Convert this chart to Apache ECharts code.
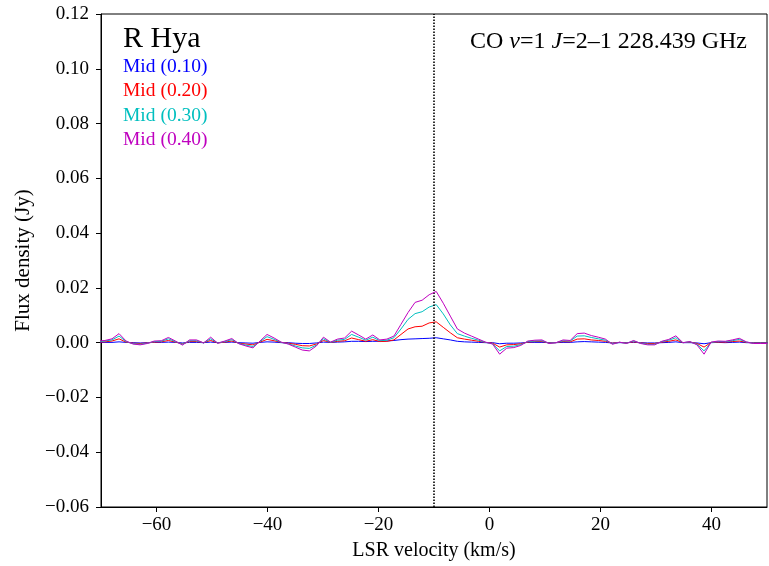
<!DOCTYPE html>
<html>
<head>
<meta charset="utf-8">
<script src="https://cdn.jsdelivr.net/npm/echarts@6/dist/echarts.min.js"></script>
<style>
html,body{margin:0;padding:0;background:#fff;}
#chart{width:769px;height:566px;}
</style>
</head>
<body>
<div id="chart"></div>
<script>
// LSR velocity channels (km/s)
const velocity = [
-70.56,-69.29,-68.02,-66.75,-65.48,-64.21,-62.94,-61.67,-60.40,-59.13,
-57.86,-56.59,-55.32,-54.05,-52.78,-51.51,-50.24,-48.97,-47.70,-46.43,
-45.16,-43.89,-42.62,-41.35,-40.08,-38.81,-37.54,-36.27,-35.00,-33.73,
-32.46,-31.19,-29.92,-28.65,-27.38,-26.11,-24.84,-23.57,-22.30,-21.03,
-19.76,-18.49,-17.22,-15.95,-14.68,-13.41,-12.14,-10.87,-9.60,-8.33,
-7.06,-5.79,-4.52,-3.25,-1.98,-0.71,0.56,1.83,3.10,4.37,
5.64,6.91,8.18,9.45,10.72,11.99,13.26,14.53,15.80,17.07,
18.34,19.61,20.88,22.15,23.42,24.69,25.96,27.23,28.50,29.77,
31.04,32.31,33.58,34.85,36.12,37.39,38.66,39.93,41.20,42.47,
43.74,45.01,46.28,47.55,48.82,50.09];

const mid010 = [
0.0001,0.0001,0.0001,0.0003,0.0001,0.0,-0.0001,0.0,0.0001,0.0001,
0.0002,0.0001,-0.0001,0.0001,0.0001,0.0,0.0002,0.0,0.0001,0.0002,
0.0,-0.0001,-0.0002,0.0001,0.0003,0.0002,0.0,0.0,-0.0002,-0.0003,
-0.0003,-0.0001,0.0002,0.0001,0.0002,0.0003,0.0005,0.0005,0.0004,0.0005,
0.0005,0.0006,0.0008,0.0011,0.0013,0.0014,0.0015,0.0016,0.0018,0.0014,
0.0010,0.0005,0.0003,0.0002,0.0001,0.0,0.0,-0.0004,-0.0002,-0.0002,
-0.0001,0.0001,0.0001,0.0001,0.0,0.0,0.0001,0.0001,0.0003,0.0004,
0.0003,0.0002,0.0001,-0.0001,0.0,0.0,0.0001,0.0,-0.0001,-0.0001,
0.0,0.0001,0.0003,0.0,0.0,-0.0001,-0.0004,0.0,0.0001,0.0,
0.0001,0.0002,0.0,0.0,0.0,0.0];

const mid020 = [
0.0002,0.0003,0.0006,0.0014,0.0002,-0.0002,-0.0003,-0.0001,0.0002,0.0003,
0.0008,0.0002,-0.0004,0.0004,0.0004,0.0,0.0008,-0.0001,0.0002,0.0006,
-0.0002,-0.0005,-0.0008,0.0002,0.0012,0.0007,0.0001,-0.0002,-0.0006,-0.0011,
-0.0012,-0.0005,0.0008,0.0001,0.0005,0.0007,0.0017,0.0011,0.0005,0.0011,
0.0004,0.0005,0.0010,0.0030,0.0050,0.0058,0.0060,0.0072,0.0076,0.0056,
0.0036,0.0018,0.0013,0.0009,0.0005,0.0001,-0.0002,-0.0016,-0.0008,-0.0007,
-0.0004,0.0002,0.0004,0.0004,-0.0001,0.0,0.0004,0.0003,0.0013,0.0014,
0.0010,0.0008,0.0005,-0.0002,0.0001,-0.0001,0.0003,-0.0001,-0.0003,-0.0003,
0.0002,0.0005,0.0010,0.0,0.0002,-0.0003,-0.0016,0.0001,0.0002,0.0002,
0.0004,0.0006,0.0001,-0.0001,-0.0001,-0.0001];

const mid030 = [
0.0004,0.0006,0.0010,0.0024,0.0004,-0.0004,-0.0006,-0.0002,0.0004,0.0005,
0.0014,0.0004,-0.0006,0.0007,0.0007,-0.0001,0.0014,-0.0001,0.0004,0.0011,
-0.0003,-0.0009,-0.0014,0.0004,0.0022,0.0012,0.0001,-0.0004,-0.0012,-0.0019,
-0.0021,-0.0009,0.0014,0.0001,0.0009,0.0012,0.0030,0.0020,0.0009,0.0020,
0.0007,0.0009,0.0018,0.0050,0.0085,0.0106,0.0113,0.0130,0.0139,0.0105,
0.0065,0.0033,0.0024,0.0016,0.0009,0.0001,-0.0004,-0.0030,-0.0014,-0.0013,
-0.0007,0.0004,0.0006,0.0007,-0.0002,0.0,0.0007,0.0006,0.0024,0.0025,
0.0019,0.0014,0.0009,-0.0004,0.0001,-0.0002,0.0006,-0.0002,-0.0006,-0.0006,
0.0004,0.0009,0.0018,0.0,0.0003,-0.0006,-0.0030,0.0001,0.0004,0.0004,
0.0007,0.0012,0.0002,-0.0002,-0.0002,-0.0002];

const mid040 = [
0.0006,0.0008,0.0014,0.0033,0.0006,-0.0005,-0.0008,-0.0003,0.0006,0.0007,
0.0019,0.0006,-0.0009,0.0010,0.0010,-0.0001,0.0020,-0.0002,0.0006,0.0015,
-0.0004,-0.0012,-0.0019,0.0006,0.0030,0.0017,0.0002,-0.0005,-0.0016,-0.0027,
-0.0030,-0.0012,0.0020,0.0002,0.0013,0.0017,0.0042,0.0028,0.0013,0.0028,
0.0010,0.0013,0.0024,0.0067,0.0110,0.0147,0.0155,0.0175,0.0187,0.0144,
0.0097,0.0050,0.0035,0.0024,0.0013,0.0002,-0.0005,-0.0042,-0.0020,-0.0018,
-0.0010,0.0006,0.0009,0.0010,-0.0003,0.0,0.0010,0.0008,0.0033,0.0035,
0.0026,0.0020,0.0013,-0.0006,0.0002,-0.0003,0.0008,-0.0003,-0.0008,-0.0008,
0.0005,0.0012,0.0025,0.0,0.0004,-0.0008,-0.0042,0.0002,0.0006,0.0005,
0.0010,0.0016,0.0003,-0.0003,-0.0003,-0.0003];

const xTicks = [-60, -40, -20, 0, 20, 40];
const seriesNames = ['Mid (0.10)','Mid (0.20)','Mid (0.30)','Mid (0.40)'];
const seriesColors = ['#0000ff','#ff0000','#00bfbf','#bf00bf'];
const seriesData = [mid010, mid020, mid030, mid040];
const systemicVelocity = -10;

const FONT = 'Liberation Serif';
const minus = s => String(s).replace('-', '\u2212');

const chart = echarts.init(document.getElementById('chart'), null, {renderer:'canvas'});

const series = seriesData.map((arr, i) => ({
  name: seriesNames[i],
  type: 'line',
  data: velocity.map((v, j) => [v, arr[j]]),
  showSymbol: false,
  symbol: 'none',
  lineStyle: {color: seriesColors[i], width: 1},
  itemStyle: {color: seriesColors[i]},
  animation: false,
  clip: true,
  z: 2 + i
}));

series.push({
  name: 'vsys',
  type: 'line',
  data: [],
  markLine: {
    silent: true,
    symbol: ['none','none'],
    label: {show: false},
    lineStyle: {color: '#000', type: [1.5, 1.5], width: 1.6},
    data: [{xAxis: systemicVelocity}]
  },
  animation: false,
  z: 10
});

const legendTexts = seriesNames.map((n, i) => ({
  type: 'text',
  left: 123,
  top: 57 + i * 24.3,
  style: {text: n, fill: seriesColors[i], font: '19.5px "' + FONT + '"'}
}));

chart.setOption({
  animation: false,
  backgroundColor: '#fff',
  grid: {left: 101, right: 2, top: 14, bottom: 56, show: true, borderColor: '#000', borderWidth: 1, backgroundColor: 'transparent'},
  xAxis: {
    type: 'value', min: -70, max: 50,
    name: 'LSR velocity (km/s)', nameLocation: 'middle', nameGap: 34,
    nameTextStyle: {fontFamily: FONT, fontSize: 20, color: '#000'},
    axisLine: {show: true, onZero: false, lineStyle: {color: '#000', width: 1}},
    axisTick: {show: true, inside: false, length: 5, customValues: xTicks, lineStyle: {color: '#000'}},
    axisLabel: {
      fontFamily: FONT, fontSize: 19, color: '#000', margin: 9,
      customValues: xTicks,
      formatter: v => minus(v)
    },
    splitLine: {show: false}
  },
  yAxis: {
    type: 'value', min: -0.06, max: 0.12, interval: 0.02,
    name: 'Flux density (Jy)', nameLocation: 'middle', nameGap: 63, nameRotate: 90,
    nameTextStyle: {fontFamily: FONT, fontSize: 21, color: '#000'},
    axisLine: {show: true, onZero: false, lineStyle: {color: '#000', width: 1}},
    axisTick: {show: true, inside: false, length: 5, lineStyle: {color: '#000'}},
    axisLabel: {
      fontFamily: FONT, fontSize: 19, color: '#000', margin: 12,
      formatter: v => minus((Math.round(v * 100) / 100).toFixed(2))
    },
    splitLine: {show: false}
  },
  graphic: [
    {type: 'text', left: 123, top: 24, style: {text: 'R Hya', fill: '#000', font: '30px "' + FONT + '"'}},
    {type: 'text', right: 22, top: 30, style: {
      text: '{n|CO }{i|v}{n|=1 }{i|J}{n|=2\u20131 228.439 GHz}',
      rich: {
        n: {fontFamily: FONT, fontSize: 24, fill: '#000', color: '#000'},
        i: {fontFamily: FONT, fontSize: 24, fontStyle: 'italic', fill: '#000', color: '#000'}
      }
    }}
  ].concat(legendTexts),
  series: series
});
</script>
</body>
</html>
